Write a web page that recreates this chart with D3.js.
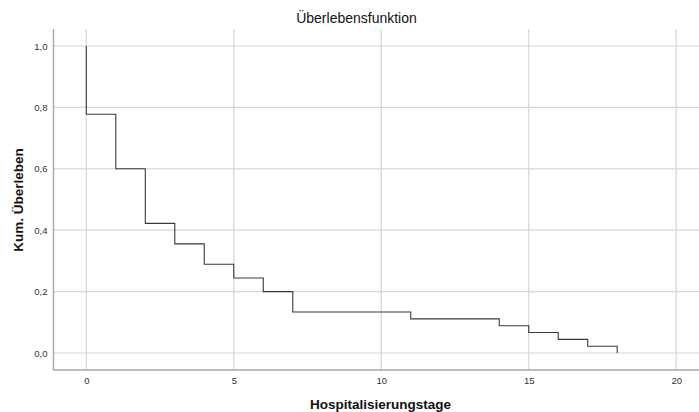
<!DOCTYPE html>
<html>
<head>
<meta charset="utf-8">
<script src="https://cdn.jsdelivr.net/npm/d3@7"></script>
<style>
  html, body { margin: 0; padding: 0; background: #fff; }
  svg { display: block; font-family: "Liberation Sans", Arial, sans-serif; }
</style>
</head>
<body>
<svg id="chart" width="699" height="412"></svg>
<script>
// Data: Kaplan-Meier survival function (times in days, cumulative survival after each event)
const eventTimes = [0, 1, 2, 3, 4, 5, 6, 7, 11, 14, 15, 16, 17, 18];
const survival   = [35/45, 27/45, 19/45, 16/45, 13/45, 11/45, 9/45, 6/45, 5/45, 4/45, 3/45, 2/45, 1/45, 0];
const xTicks = [0, 5, 10, 15, 20];
const yTicks = [0, 0.2, 0.4, 0.6, 0.8, 1.0];
const titleText = "Überlebensfunktion";
const xLabel = "Hospitalisierungstage";
const yLabel = "Kum. Überleben";

const W = 699, H = 412;
const frame = { left: 53.5, right: 699, top: 29, bottom: 370 };

const x = d3.scaleLinear().domain([0, 20]).range([86.3, 676.2]);
const y = d3.scaleLinear().domain([0, 1]).range([353, 46]);

const svg = d3.select("#chart");

// Gridlines
const grid = svg.append("g");
grid.selectAll("line.v").data(xTicks).join("line")
  .attr("x1", d => x(d)).attr("x2", d => x(d))
  .attr("y1", frame.top).attr("y2", frame.bottom)
  .attr("stroke", "#d6d6d6").attr("stroke-width", 1.2);
grid.selectAll("line.h").data(yTicks).join("line")
  .attr("x1", frame.left).attr("x2", frame.right)
  .attr("y1", d => y(d)).attr("y2", d => y(d))
  .attr("stroke", "#d6d6d6").attr("stroke-width", 1.2);

// Axes (no tick marks)
const fmt = d => d3.format(".1f")(d).replace(".", ",");
const yAxis = svg.append("g").attr("transform", `translate(${frame.left},0)`)
  .call(d3.axisLeft(y).tickValues(yTicks).tickSize(0).tickPadding(6).tickFormat(fmt));
const xAxis = svg.append("g").attr("transform", `translate(0,${frame.bottom})`)
  .call(d3.axisBottom(x).tickValues(xTicks).tickSize(0).tickPadding(7).tickFormat(d3.format("d")));
[yAxis, xAxis].forEach(a => {
  a.select(".domain").remove();
  a.selectAll("text").attr("fill", "#333").style("font-size", "9.5px")
    .style("font-family", "'Liberation Sans', Arial, sans-serif");
});

svg.append("line").attr("x1", frame.left).attr("x2", frame.left)
  .attr("y1", frame.top).attr("y2", frame.bottom)
  .attr("stroke", "#a8a8a8").attr("stroke-width", 1.4);
svg.append("line").attr("x1", frame.left).attr("x2", frame.right)
  .attr("y1", frame.bottom).attr("y2", frame.bottom)
  .attr("stroke", "#a8a8a8").attr("stroke-width", 1.4);

// Step line
const pts = [[0, 1]];
eventTimes.forEach((t, i) => { pts.push([t, survival[i]]); });
const line = d3.line().x(d => x(d[0])).y(d => y(d[1])).curve(d3.curveStepAfter);
svg.append("path").datum(pts)
  .attr("d", line)
  .attr("fill", "none").attr("stroke", "#3a3a3a").attr("stroke-width", 1.1);

// Titles
svg.append("text").attr("x", 356.5).attr("y", 23).attr("text-anchor", "middle")
  .attr("fill", "#111").style("font-size", "14px").text(titleText);
svg.append("text").attr("x", 380.5).attr("y", 409).attr("text-anchor", "middle")
  .attr("fill", "#111").style("font-size", "13.5px").style("font-weight", "bold").text(xLabel);
svg.append("text").attr("transform", "translate(23,200) rotate(-90)").attr("text-anchor", "middle")
  .attr("fill", "#111").style("font-size", "13.5px").style("font-weight", "bold").text(yLabel);
</script>
</body>
</html>
